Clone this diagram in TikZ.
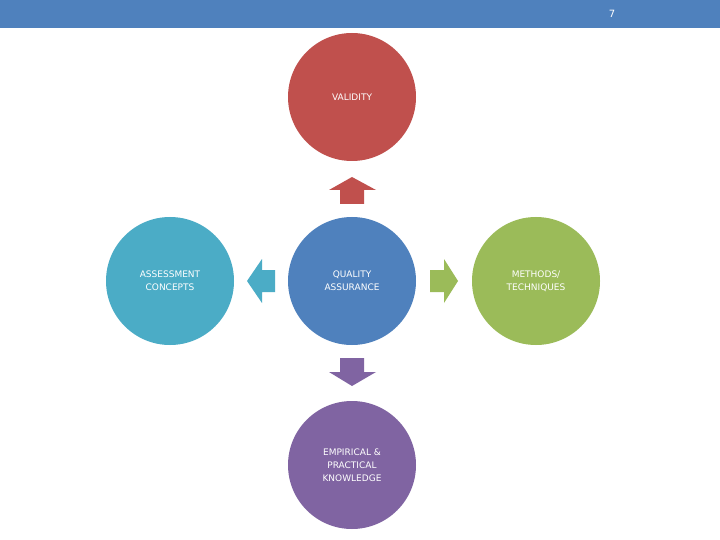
\documentclass[tikz,border=0pt]{standalone}
\usepackage{fontspec}
\setmainfont{DejaVu Sans}
\begin{document}
\begin{tikzpicture}[x=1pt,y=-1pt,
  circ/.style={circle,minimum size=128pt,inner sep=0pt,text=white,font=\fontsize{9}{13}\selectfont,align=center},
  arr/.style={draw=none}]
\useasboundingbox (0,0) rectangle (720,540);
\fill[white] (0,0) rectangle (720,540);
\fill[color={rgb,255:red,79;green,129;blue,189}] (0,0) rectangle (720,28);
\node[text=white,font=\fontsize{10}{12}\selectfont] (pg) at (612,14) {7};
\definecolor{cred}{RGB}{192,80,77}
\definecolor{cblue}{RGB}{79,129,189}
\definecolor{ccyan}{RGB}{75,172,198}
\definecolor{cgreen}{RGB}{155,187,89}
\definecolor{cpurple}{RGB}{128,100,162}
\node[circ,fill=cred] (val) at (352,97) {VALIDITY};
\node[circ,fill=cblue] (qa) at (352,281) {QUALITY\\ASSURANCE};
\node[circ,fill=ccyan] (ac) at (170,281) {ASSESSMENT\\CONCEPTS};
\node[circ,fill=cgreen] (mt) at (536,281) {METHODS/\\TECHNIQUES};
\node[circ,fill=cpurple] (ep) at (352,465) {EMPIRICAL \&\\PRACTICAL\\KNOWLEDGE};
\fill[cred] (340,204) -- (340,190) -- (329,190) -- (352,177) -- (376,190) -- (364,190) -- (364,204) -- cycle;
\fill[ccyan] (275,270) -- (262,270) -- (262,259) -- (247,281) -- (262,303) -- (262,292) -- (275,292) -- cycle;
\fill[cgreen] (430,270) -- (444,270) -- (444,259) -- (458,281) -- (444,303) -- (444,292) -- (430,292) -- cycle;
\fill[cpurple] (340,358) -- (340,372) -- (329,372) -- (352,386) -- (376,372) -- (364,372) -- (364,358) -- cycle;
\end{tikzpicture}
\end{document}
